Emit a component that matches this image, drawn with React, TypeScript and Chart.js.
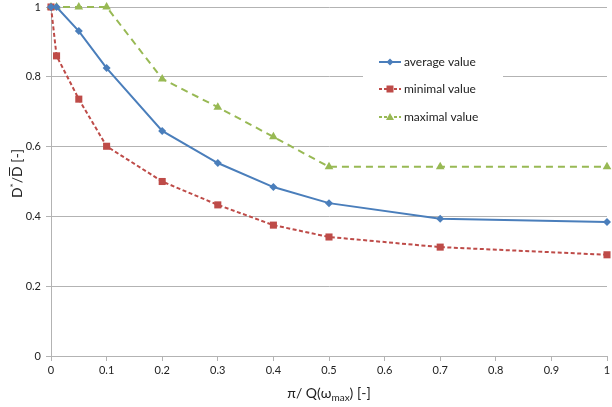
import React, { useEffect, useRef } from "react";
import { Chart, registerables } from "chart.js";
Chart.register(...registerables);

const xValues = [0, 0.01, 0.05, 0.1, 0.2, 0.3, 0.4, 0.5, 0.7, 1];
const averageValues = [1, 1, 0.931, 0.825, 0.645, 0.553, 0.484, 0.438, 0.393, 0.384];
const minimalValues = [1, 0.86, 0.736, 0.601, 0.5, 0.433, 0.375, 0.341, 0.312, 0.29];
const maximalValues = [1, 1, 1, 1, 0.794, 0.713, 0.628, 0.542, 0.542, 0.542];
const seriesNames = ["average value", "minimal value", "maximal value"];
const xTickValues = [0, 0.1, 0.2, 0.3, 0.4, 0.5, 0.6, 0.7, 0.8, 0.9, 1];
const yTickValues = [0, 0.2, 0.4, 0.6, 0.8, 1];

const FONT = "Lato, 'Open Sans', sans-serif";
const BLUE = "#4a7ebb";
const RED = "#be4b48";
const GREEN = "#98b954";
const GRID = "#b3b3b3";

export default function App() {
  const ref = useRef<HTMLCanvasElement>(null);
  useEffect(() => {
    const ctx = ref.current!.getContext("2d")!;
    const pts = (ys: number[]) => xValues.map((x, i) => ({ x, y: ys[i] }));
    const styles = [
      { color: BLUE, dash: [] as number[], style: "rectRot", r: 4 },
      { color: RED, dash: [4, 2.5], style: "rect", r: 5 },
      { color: GREEN, dash: [7, 5], style: "triangle", r: 5 },
    ];
    const data = [averageValues, minimalValues, maximalValues];

    const overlay = {
      id: "overlay",
      afterDatasetsDraw(chart: any) {
        const c = chart.ctx;
        const area = chart.chartArea;
        c.save();
        // legend
        c.fillStyle = "#fff";
        c.fillRect(363, 45, 140, 88);
        const rows = [62, 89, 117];
        styles.forEach((s, i) => {
          const y = rows[i];
          c.strokeStyle = s.color;
          c.lineWidth = 2;
          c.setLineDash(s.dash.length ? [3, 2] : []);
          c.beginPath();
          c.moveTo(379, y);
          c.lineTo(401, y);
          c.stroke();
          c.setLineDash([]);
          c.fillStyle = s.color;
          c.beginPath();
          if (s.style === "rectRot") {
            c.moveTo(390, y - 3.5); c.lineTo(393.5, y); c.lineTo(390, y + 3.5); c.lineTo(386.5, y);
          } else if (s.style === "rect") {
            c.rect(386.5, y - 3.5, 7, 7);
          } else {
            c.moveTo(390, y - 4); c.lineTo(394, y + 3); c.lineTo(386, y + 3);
          }
          c.closePath();
          c.fill();
          c.fillStyle = "#222";
          c.font = `12px ${FONT}`;
          c.textAlign = "left";
          c.textBaseline = "middle";
          c.fillText(seriesNames[i], 404, y);
        });
        // x title
        c.fillStyle = "#222";
        c.textBaseline = "alphabetic";
        const p1 = "π/ Q(ω";
        const p2 = "max";
        const p3 = ") [-]";
        c.font = `14px ${FONT}`;
        const w1 = c.measureText(p1).width;
        const w3 = c.measureText(p3).width;
        c.font = `10px ${FONT}`;
        const w2 = c.measureText(p2).width;
        const total = w1 + w2 + w3;
        const cx = (area.left + area.right) / 2;
        let x = cx - total / 2;
        const by = 398;
        c.font = `14px ${FONT}`;
        c.fillText(p1, x, by);
        x += w1;
        c.font = `10px ${FONT}`;
        c.fillText(p2, x, by + 3);
        x += w2;
        c.font = `14px ${FONT}`;
        c.fillText(p3, x, by);
        // y title
        c.translate(22, (area.top + area.bottom) / 2 - 8);
        c.rotate(-Math.PI / 2);
        c.font = `14px ${FONT}`;
        const a = "D";
        const b = "*";
        const d = "/D";
        const e = " [-]";
        const wa = c.measureText(a).width;
        c.font = `10px ${FONT}`;
        const wb = c.measureText(b).width;
        c.font = `14px ${FONT}`;
        const wd = c.measureText(d).width;
        const we = c.measureText(e).width;
        const wD = c.measureText("D").width;
        const tot = wa + wb + wd + we;
        let tx = -tot / 2;
        c.fillText(a, tx, 0);
        tx += wa;
        c.font = `10px ${FONT}`;
        c.fillText(b, tx, -5);
        tx += wb;
        c.font = `14px ${FONT}`;
        c.fillText(d, tx, 0);
        c.strokeStyle = "#222";
        c.lineWidth = 1;
        c.beginPath();
        c.moveTo(tx + wd - wD + 1, -12.5);
        c.lineTo(tx + wd - 1, -12.5);
        c.stroke();
        tx += wd;
        c.fillText(e, tx, 0);
        c.restore();
      },
    };

    const chart = new Chart(ctx, {
      type: "line",
      data: {
        datasets: data.map((ys, i) => ({
          label: seriesNames[i],
          data: pts(ys),
          borderColor: styles[i].color,
          backgroundColor: styles[i].color,
          borderWidth: 2,
          borderDash: styles[i].dash,
          pointStyle: styles[i].style as any,
          pointRadius: styles[i].r,
          pointBorderWidth: 0,
          pointBackgroundColor: styles[i].color,
          tension: 0,
          fill: false,
          clip: false as any,
        })),
      },
      options: {
        animation: false,
        responsive: false,
        layout: { padding: { left: 0, right: 1, top: 7, bottom: 0 } },
        plugins: { legend: { display: false }, tooltip: { enabled: false } },
        scales: {
          x: {
            type: "linear",
            min: 0,
            max: 1,
            afterFit: (s: any) => { s.height = 51; s.paddingLeft = 0; s.paddingRight = 0; },
            afterBuildTicks: (s: any) => { s.ticks = xTickValues.map((v) => ({ value: v })); },
            grid: { drawOnChartArea: false, drawTicks: true, tickLength: 5, color: GRID },
            border: { color: GRID, width: 1 },
            ticks: {
              color: "#222",
              font: { family: FONT, size: 11 },
              padding: 3,
              maxRotation: 0,
              callback: (v: any) => String(Math.round(Number(v) * 10) / 10),
            },
          },
          y: {
            type: "linear",
            min: 0,
            max: 1,
            afterFit: (s: any) => { s.width = 51; s.paddingTop = 0; s.paddingBottom = 0; },
            afterBuildTicks: (s: any) => { s.ticks = yTickValues.map((v) => ({ value: v })); },
            grid: { drawOnChartArea: true, drawTicks: true, tickLength: 5, color: GRID },
            border: { color: GRID, width: 1 },
            ticks: {
              color: "#222",
              font: { family: FONT, size: 11 },
              padding: 5,
              callback: (v: any) => String(Math.round(Number(v) * 10) / 10),
            },
          },
        },
      },
      plugins: [overlay],
    });
    return () => chart.destroy();
  }, []);
  return (
    <div style={{ position: "fixed", left: 0, top: 0, width: 612, height: 407, background: "#fff" }}>
      <canvas ref={ref} width={612} height={407} style={{ width: 612, height: 407 }} />
    </div>
  );
}
